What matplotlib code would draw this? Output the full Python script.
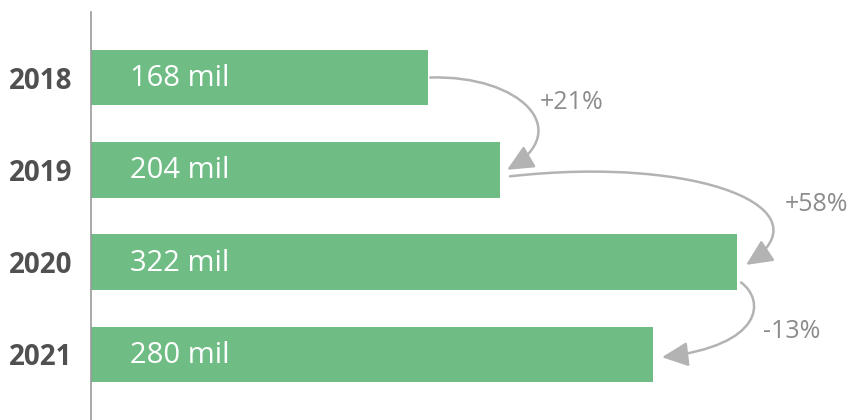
import matplotlib
matplotlib.use("Agg")
import matplotlib.pyplot as plt
from matplotlib.patches import FancyArrowPatch
from matplotlib.path import Path

plt.rcParams["font.family"] = ["Open Sans", "DejaVu Sans"]

# Dados
anos    = ["2018", "2019", "2020", "2021"]
valores = [168, 204, 322, 280]
rotulos = [f"{v} mil" for v in valores]

COR_BARRA = "#6fbd85"
COR_SETA  = "#b3b3b3"
COR_PCT   = "#8c8c8c"
COR_ANO   = "#505050"

# Layout das setas: deslocamentos (em unidades de dado) relativos ao início/fim
# (ini, fim, controle 1, controle 2)
setas = [
    ((1.0, 0.00), (3.3, 0.00), (45, -0.03), (34, -0.43)),
    ((4.8, 0.07), (4.4, 0.03), (95, -0.23), (42, -0.60)),
    ((1.9, 0.22), (4.5, 0.03), (12, 0.19), (51, -0.13)),
]
pos_pct = [(19.7, 0.27), (23.8, 1.38), (12.8, 2.75)]

fig = plt.figure(figsize=(8.51, 4.2), dpi=100)
ax = fig.add_axes([91 / 851, 0, 760 / 851, 408 / 420])

y = list(range(len(anos)))
ax.barh(y, valores, height=0.6, color=COR_BARRA)
ax.set_xlim(0, 378.7)
ax.set_ylim(3.71, -0.71)

for yi, txt in zip(y, rotulos):
    ax.text(19.4, yi + 0.01, txt, ha="left", va="center", color="white", fontsize=21)

ax.set_yticks(y)
ax.set_yticklabels(anos, fontsize=20, fontweight="bold", color=COR_ANO)
ax.tick_params(axis="y", length=0, pad=13.5)
ax.set_xticks([])
for lado in ["top", "right", "bottom"]:
    ax.spines[lado].set_visible(False)
ax.spines["left"].set_color("#999999")
ax.spines["left"].set_linewidth(1.2)

for i, (ini, fim, c1, c2) in enumerate(setas):
    p0 = (valores[i] + ini[0], i + ini[1])
    p3 = (valores[i + 1] + fim[0], i + 1 + fim[1])
    p1 = (p0[0] + c1[0], p0[1] + c1[1])
    p2 = (p3[0] + c2[0], p3[1] + c2[1])
    caminho = Path([p0, p1, p2, p3], [Path.MOVETO, Path.CURVE4, Path.CURVE4, Path.CURVE4])
    seta = FancyArrowPatch(path=caminho, arrowstyle="-|>,head_length=16,head_width=7.5",
                           color=COR_SETA, linewidth=1.8, mutation_scale=1)
    ax.add_patch(seta)

    var = valores[i + 1] / valores[i] - 1
    txt = f"+{var:.0%}" if var >= 0 else f"-{abs(var):.0%}"
    base = max(valores[i], valores[i + 1])
    ax.text(base + pos_pct[i][0], pos_pct[i][1], txt, ha="left", va="center",
            color=COR_PCT, fontsize=18)

fig.savefig("out.png", dpi=100)
